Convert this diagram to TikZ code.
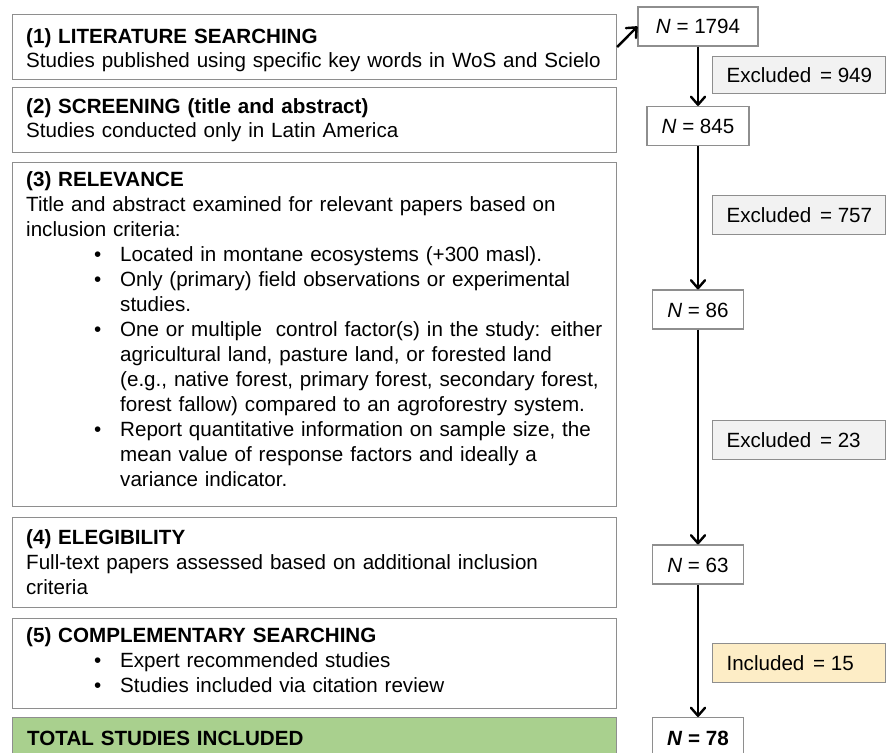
\documentclass[tikz,border=0pt]{standalone}
\usepackage{fontspec}
\setmainfont{Liberation Sans}
\usetikzlibrary{arrows.meta}
\definecolor{bordgray}{HTML}{8E8E8E}
\definecolor{exfill}{HTML}{F2F2F2}
\definecolor{infill}{HTML}{FDEDC6}
\definecolor{totfill}{HTML}{A9D08E}
\setlength\parindent{0pt}
\setlength\parskip{0pt}
\newcommand\bul[1]{\par\begingroup\leftskip=94pt\noindent\llap{\makebox[26pt][l]{\textbullet}}#1\par\endgroup}
\begin{document}
\begin{tikzpicture}[x=1pt,y=-1pt,
  lbox/.style={draw=bordgray, line width=1.1pt, minimum width=604pt, inner sep=0pt, anchor=north west},
  txt/.style={anchor=north west, inner sep=0pt, text width=595pt, align=left, font=\fontsize{20.6}{25}\selectfont},
  nbox/.style={draw=bordgray, line width=1.1pt, fill=white, minimum height=39pt, inner xsep=0pt, inner ysep=0pt,
    text height=15pt, text depth=0pt, font=\fontsize{20.6}{25}\selectfont},
  exbox/.style={draw=bordgray, line width=1.1pt, fill=exfill, anchor=north west, minimum height=39pt,
    minimum width=173pt, inner xsep=14pt, inner ysep=0pt, text height=15pt, text depth=0pt,
    font=\fontsize{20.6}{25}\selectfont},
  arr/.style={line width=2.4pt, -{Straight Barb[length=8pt,width=14pt,round]}}
]
\clip (0,0) rectangle (888,752);
\fill[white] (0,0) rectangle (888,752);

% left boxes
\node[lbox, minimum height=65pt] (b1) at (12,14) {};
\node[lbox, minimum height=65pt] (b2) at (12,87) {};
\node[lbox, minimum height=344pt] (b3) at (12,162) {};
\node[lbox, minimum height=90pt] (b4) at (12,517) {};
\node[lbox, minimum height=90pt] (b5) at (12,618) {};
\node[lbox, minimum height=70pt, fill=totfill] (b6) at (12,717) {};

\node[txt, font=\fontsize{20.6}{24}\selectfont] (t1) at (26,28) {\textbf{(1) LITERATURE SEARCHING}\\Studies published using specific key words in WoS and Scielo};
\node[txt, font=\fontsize{20.6}{24}\selectfont] (t2) at (26,98) {\textbf{(2) SCREENING (title and abstract)}\\Studies conducted only in Latin America};
\node[txt] (t3) at (26,171.7) {\textbf{(3) RELEVANCE}\\
Title and abstract examined for relevant papers based on\\
inclusion criteria:
\bul{Located in montane ecosystems (+300 masl).}
\bul{Only (primary) field observations or experimental\\studies.}
\bul{One or multiple\ \ control factor(s) in the study: either\\agricultural land, pasture land, or forested land\\(e.g., native forest, primary forest, secondary forest,\\forest fallow) compared to an agroforestry system.}
\bul{Report quantitative information on sample size, the\\mean value of response factors and ideally a\\variance indicator.}};
\node[txt] (t4) at (26,529.7) {\textbf{(4) ELEGIBILITY}\\Full-text papers assessed based on additional inclusion\\criteria};
\node[txt] (t5) at (26,627.7) {\textbf{(5) COMPLEMENTARY SEARCHING}
\bul{Expert recommended studies}
\bul{Studies included via citation review}};
\node[txt] (t6) at (27,731) {\textbf{TOTAL STUDIES INCLUDED}};

% right column
\node[nbox, minimum width=120pt] (n1) at (698,26.5) {\textit{N} = 1794};
\node[nbox, minimum width=102pt] (n2) at (698,126) {\textit{N} = 845};
\node[nbox, minimum width=91pt] (n3) at (698,309.5) {\textit{N} = 86};
\node[nbox, minimum width=91pt] (n4) at (698,564.5) {\textit{N} = 63};
\node[nbox, minimum width=91pt, anchor=north, inner ysep=13pt, text depth=20pt] (n5) at (698,717) {\textbf{\textit{N} = 78}};

\node[exbox, minimum height=37pt] (e1) at (712,56) {\makebox[145pt][l]{Excluded\hspace{3pt} = 949}};
\node[exbox] (e2) at (712,195) {\makebox[145pt][l]{Excluded\hspace{3pt} = 757}};
\node[exbox] (e3) at (712,420) {\makebox[145pt][l]{Excluded\hspace{3pt} = 23}};
\node[exbox, fill=infill] (e4) at (712,643) {\makebox[145pt][l]{Included\hspace{3pt} = 15}};

% connectors
\draw[arr] (b1.east) -- (n1.west);
\draw[arr] (n1) -- (n2);
\draw[arr] (n2) -- (n3);
\draw[arr] (n3) -- (n4);
\draw[arr] (n4) -- (n5);
\end{tikzpicture}
\end{document}
